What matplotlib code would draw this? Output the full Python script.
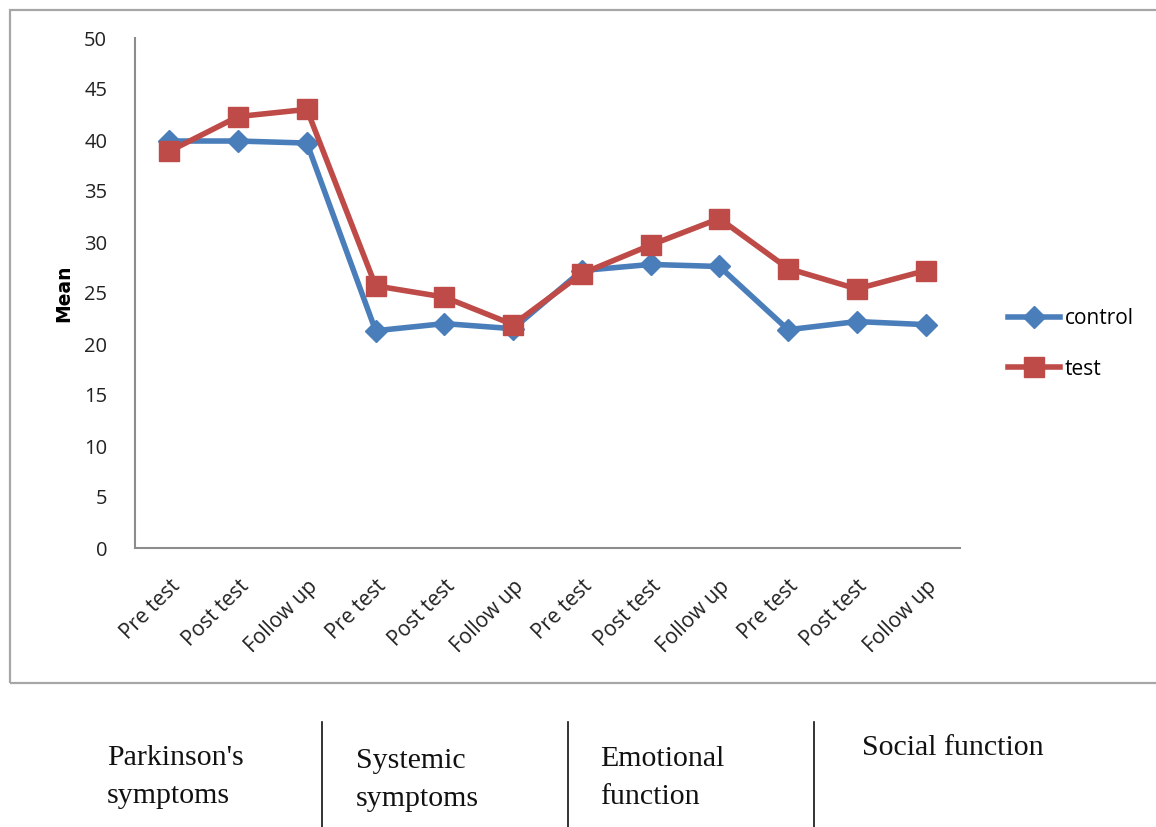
import matplotlib
matplotlib.use("Agg")
import matplotlib.pyplot as plt
from matplotlib.patches import Rectangle
from matplotlib.lines import Line2D

tick_labels = ["Pre test", "Post test", "Follow up"] * 4
control = [39.9, 39.9, 39.7, 21.3, 22.0, 21.5, 27.2, 27.8, 27.6, 21.4, 22.2, 21.9]
test = [38.9, 42.3, 43.0, 25.7, 24.6, 21.9, 26.9, 29.7, 32.3, 27.4, 25.4, 27.2]
groups = ["Parkinson's\nsymptoms", "Systemic\nsymptoms", "Emotional\nfunction", "Social function"]
yticks = list(range(0, 51, 5))

W, H = 1156, 827
fig = plt.figure(figsize=(W / 100, H / 100), dpi=100)

def fx(px):
    return px / W

def fy(py):
    return 1 - py / H

# outer chart frame
fig.add_artist(Rectangle((fx(10), fy(683)), fx(1160) - fx(10), fy(10) - fy(683),
                         transform=fig.transFigure, fill=False, edgecolor="#a6a6a6", lw=1.6))

ax = fig.add_axes([fx(135), fy(548), fx(960) - fx(135), fy(38) - fy(548)])
x = list(range(len(tick_labels)))
ax.plot(x, control, color="#4a7ebb", lw=4, marker="D", markersize=11, label="control")
ax.plot(x, test, color="#be4b48", lw=4, marker="s", markersize=14, label="test")

ax.set_xlim(-0.5, len(tick_labels) - 0.5)
ax.set_ylim(0, 50)
ax.set_yticks(yticks)
ax.set_xticks(x)
ax.set_xticklabels(tick_labels, rotation=45, ha="right", va="top",
                   rotation_mode="anchor", fontsize=15, family="Open Sans", color="#222222")
for lab in ax.get_yticklabels():
    lab.set_fontsize(14.5)
    lab.set_family("Open Sans")
    lab.set_color("#222222")
ax.tick_params(axis="both", length=0)
ax.tick_params(axis="y", pad=20)
ax.tick_params(axis="x", pad=20)
for s in ["top", "right"]:
    ax.spines[s].set_visible(False)
for s in ["left", "bottom"]:
    ax.spines[s].set_color("#8c8c8c")
    ax.spines[s].set_linewidth(1.5)
ax.set_ylabel("Mean", fontsize=13.5, fontweight="bold", family="DejaVu Sans", labelpad=8)

leg = ax.legend(loc="center left", bbox_to_anchor=(1.035, 0.40), frameon=False,
                prop={"family": "Open Sans", "size": 15}, handlelength=2.5,
                handletextpad=0.25, labelspacing=1.4)

# group labels under the chart
gx = [107, 356, 600, 862]
gy = [777, 780, 778, 748]
for lab, px, py in zip(groups, gx, gy):
    fig.text(fx(px), fy(py), lab, family="Liberation Serif", fontsize=21.5,
             ha="left", va="center", linespacing=1.6, color="#111111")
for px in [322, 568, 814]:
    fig.add_artist(Line2D([fx(px), fx(px)], [fy(722), fy(827)],
                          transform=fig.transFigure, color="#111111", lw=1.2))

fig.savefig("out.png", dpi=100)
